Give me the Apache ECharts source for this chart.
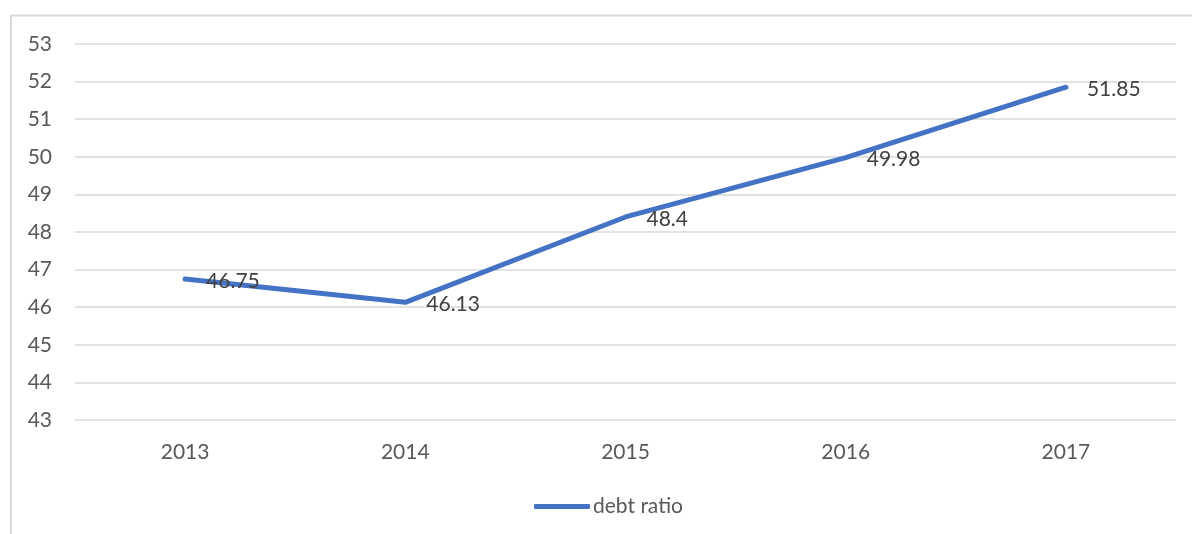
<!DOCTYPE html>
<html>
<head>
<meta charset="utf-8">
<script src="https://cdn.jsdelivr.net/npm/echarts@6/dist/echarts.min.js"></script>
<style>html,body{margin:0;padding:0;background:#fff;}#c{width:1192px;height:534px;}</style>
</head>
<body>
<div id="c"></div>
<script>
const categories = ['2013', '2014', '2015', '2016', '2017'];
const debtRatio = [46.75, 46.13, 48.4, 49.98, 51.85];
const seriesName = 'debt ratio';

const FONT = 'Lato, "Open Sans", "Liberation Sans", sans-serif';
const chart = echarts.init(document.getElementById('c'), null, {renderer: 'canvas'});
chart.setOption({
  animation: false,
  backgroundColor: '#ffffff',
  textStyle: {fontFamily: FONT},
  graphic: [{
    type: 'rect', silent: true, z: -10,
    shape: {x: 11, y: 15.5, width: 1200, height: 700},
    style: {fill: 'none', stroke: '#d9d9d9', lineWidth: 2}
  }],
  grid: {left: 75, right: 16, top: 44, bottom: 114, containLabel: false},
  xAxis: {
    type: 'category',
    data: categories,
    boundaryGap: true,
    axisLine: {show: false},
    axisTick: {show: false},
    axisLabel: {color: '#595959', fontSize: 21, margin: 22, fontFamily: FONT}
  },
  yAxis: {
    type: 'value',
    min: 43, max: 53, interval: 1,
    axisLine: {show: false},
    axisTick: {show: false},
    axisLabel: {color: '#595959', fontSize: 21, margin: 23, fontFamily: FONT},
    splitLine: {lineStyle: {color: '#d9d9d9', width: 1.5}}
  },
  legend: {
    show: true,
    left: 534, top: 496, padding: 0,
    itemWidth: 56, itemHeight: 5, itemGap: 10,
    icon: 'roundRect',
    textStyle: {color: '#595959', fontSize: 21, fontFamily: FONT, padding: [0, 0, 0, -2]},
    data: [seriesName]
  },
  series: [{
    name: seriesName,
    type: 'line',
    data: debtRatio,
    symbol: 'circle',
    symbolSize: 0,
    showSymbol: true,
    lineStyle: {color: '#4472C4', width: 5, cap: 'round', join: 'round'},
    itemStyle: {color: '#4472C4'},
    label: {
      show: true, position: 'right', distance: 21, offset: [0, 2],
      color: '#404040', fontSize: 21, fontFamily: FONT
    },
    z: 3
  }]
});
</script>
</body>
</html>
